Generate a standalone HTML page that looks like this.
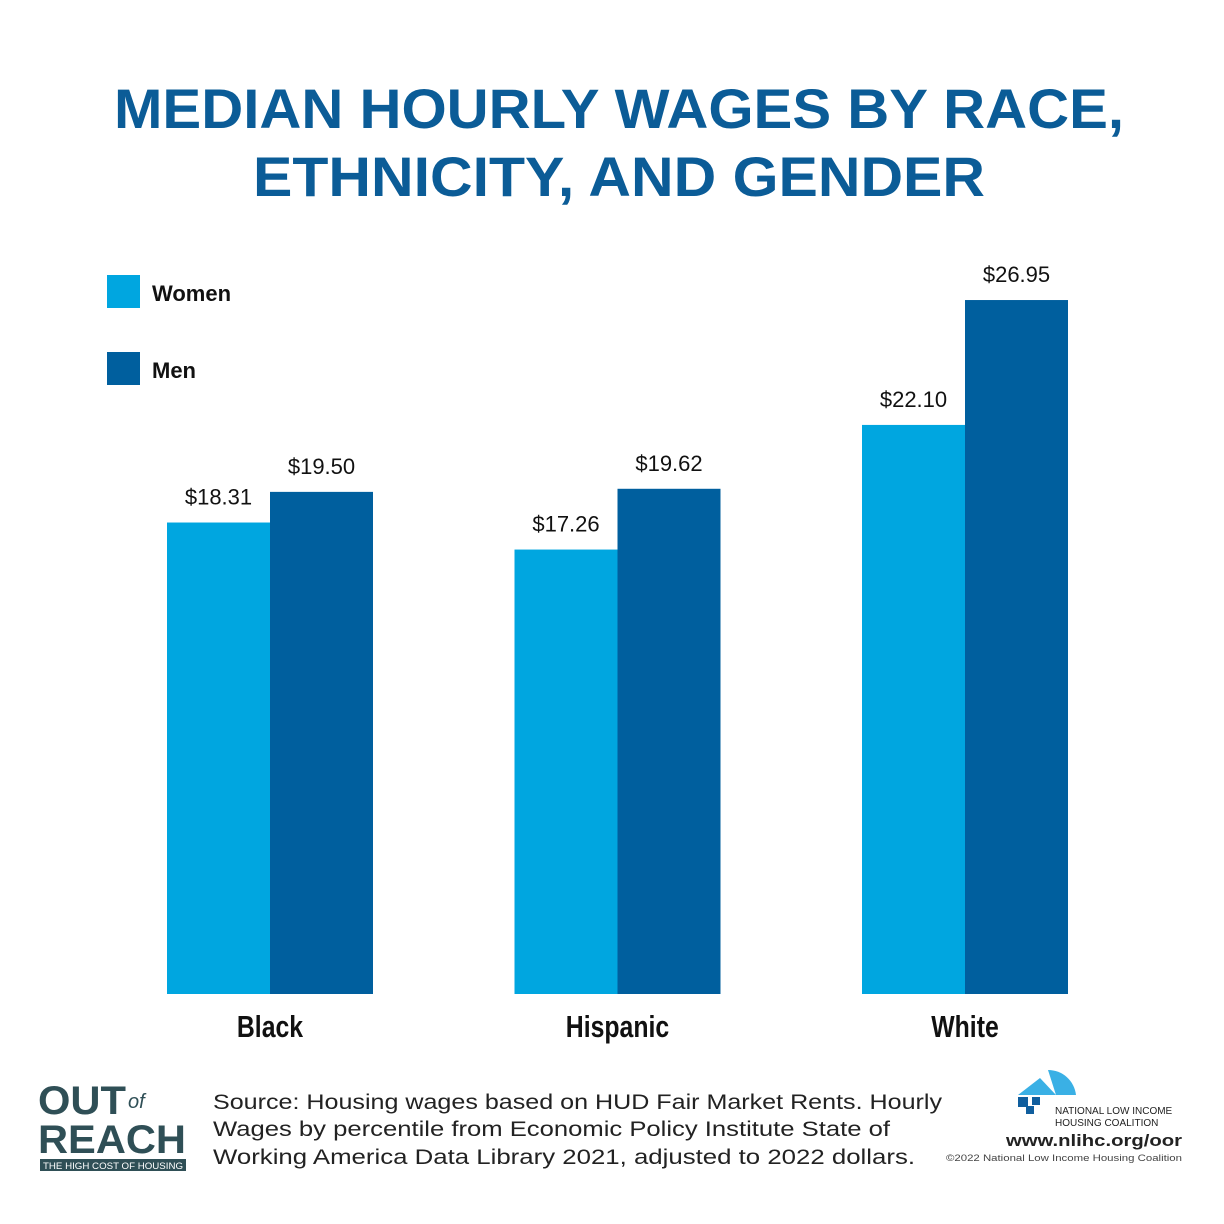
<!DOCTYPE html>
<html><head><meta charset="utf-8"><style>
html,body{margin:0;padding:0;background:#fff;}
svg{display:block;font-family:"Liberation Sans",sans-serif;}
</style></head><body>
<svg width="1224" height="1224" viewBox="0 0 1224 1224">
<rect width="1224" height="1224" fill="#fff"/>
<g fill="#0b5c97" font-weight="bold" font-size="56" text-anchor="middle">
<text x="619" y="128" textLength="1010" lengthAdjust="spacingAndGlyphs">MEDIAN HOURLY WAGES BY RACE,</text>
<text x="619" y="196" textLength="732" lengthAdjust="spacingAndGlyphs">ETHNICITY, AND GENDER</text>
</g>
<g>
<rect x="107" y="275" width="33" height="33" fill="#00a6e0"/>
<text x="152" y="301" font-size="22" font-weight="bold" fill="#111">Women</text>
<rect x="107" y="352" width="33" height="33" fill="#005f9e"/>
<text x="152" y="378" font-size="22" font-weight="bold" fill="#111">Men</text>
</g>
<g id="bars"></g>
<g>
<g fill="#2f4f56">
<text x="38" y="1114" font-size="40" font-weight="bold" textLength="88" lengthAdjust="spacingAndGlyphs">OUT</text>
<text x="128" y="1108" font-size="20" font-style="italic">of</text>
<text x="38" y="1153" font-size="40" font-weight="bold" textLength="148" lengthAdjust="spacingAndGlyphs">REACH</text>
<rect x="40" y="1159" width="146" height="12"/>
<text x="113" y="1169" font-size="9" fill="#fff" text-anchor="middle" textLength="140" lengthAdjust="spacingAndGlyphs">THE HIGH COST OF HOUSING</text>
</g>
<g font-size="21" fill="#222">
<text x="213" y="1109" textLength="729" lengthAdjust="spacingAndGlyphs">Source: Housing wages based on HUD Fair Market Rents. Hourly</text>
<text x="213" y="1136" textLength="677" lengthAdjust="spacingAndGlyphs">Wages by percentile from Economic Policy Institute State of</text>
<text x="213" y="1164" textLength="702" lengthAdjust="spacingAndGlyphs">Working America Data Library 2021, adjusted to 2022 dollars.</text>
</g>
<g>
<path d="M1018 1095 L1040 1078 L1056 1095 Z" fill="#3ab0e5"/>
<path d="M1048 1070 A28 28 0 0 1 1076 1095 L1056 1095 Z" fill="#3ab0e5"/>
<rect x="1018" y="1097" width="10" height="10" fill="#105e9e"/>
<rect x="1032" y="1097" width="8" height="8" fill="#105e9e"/>
<rect x="1026" y="1106" width="8" height="8" fill="#105e9e"/>
<text x="1055" y="1114" font-size="10" fill="#222">NATIONAL LOW INCOME</text>
<text x="1055" y="1126" font-size="10" fill="#222">HOUSING COALITION</text>
<text x="1182" y="1146" font-size="17" font-weight="bold" fill="#222" text-anchor="end" textLength="176" lengthAdjust="spacingAndGlyphs">www.nlihc.org/oor</text>
<text x="1182" y="1161" font-size="9" fill="#444" text-anchor="end" textLength="236" lengthAdjust="spacingAndGlyphs">©2022 National Low Income Housing Coalition</text>
</g>
</g>
</svg>
<script>
const categories = ["Black", "Hispanic", "White"];
const womenValues = [18.31, 17.26, 22.10];
const menValues = [19.50, 19.62, 26.95];
const valueLabelsWomen = ["$18.31", "$17.26", "$22.10"];
const valueLabelsMen = ["$19.50", "$19.62", "$26.95"];

const NS = "http://www.w3.org/2000/svg";
const baseY = 994, pxPerUnit = 25.75;
function yScale(v){ return baseY - v * pxPerUnit; }
function xCenter(i){ return 270 + i * 347.5; }
const barW = 103;
const g = document.getElementById("bars");
function mk(tag, attrs){ const e = document.createElementNS(NS, tag); for (const k in attrs) e.setAttribute(k, attrs[k]); g.appendChild(e); return e; }
categories.forEach((cat, i) => {
  const cx = xCenter(i);
  const series = [[womenValues[i], valueLabelsWomen[i], "#00a6e0", cx - barW, "women"], [menValues[i], valueLabelsMen[i], "#005f9e", cx, "men"]];
  series.forEach(s => {
    const y = yScale(s[0]);
    const r = mk("rect", {x: s[3], y: y, width: barW, height: baseY - y, fill: s[2]});
    
    
    const t = mk("text", {x: s[3] + barW / 2, y: y - 18, "font-size": 22, "text-anchor": "middle", fill: "#111"});
    t.textContent = s[1];
    
    
  });
  const c = mk("text", {x: cx, y: 1037, "font-size": 31, "font-weight": "bold", "text-anchor": "middle", fill: "#111"});
  c.textContent = cat;
  
  
  const w = c.getComputedTextLength();
  c.setAttribute('textLength', (w * 0.8).toFixed(1));
  c.setAttribute('lengthAdjust', 'spacingAndGlyphs');
});
</script>
</body></html>
